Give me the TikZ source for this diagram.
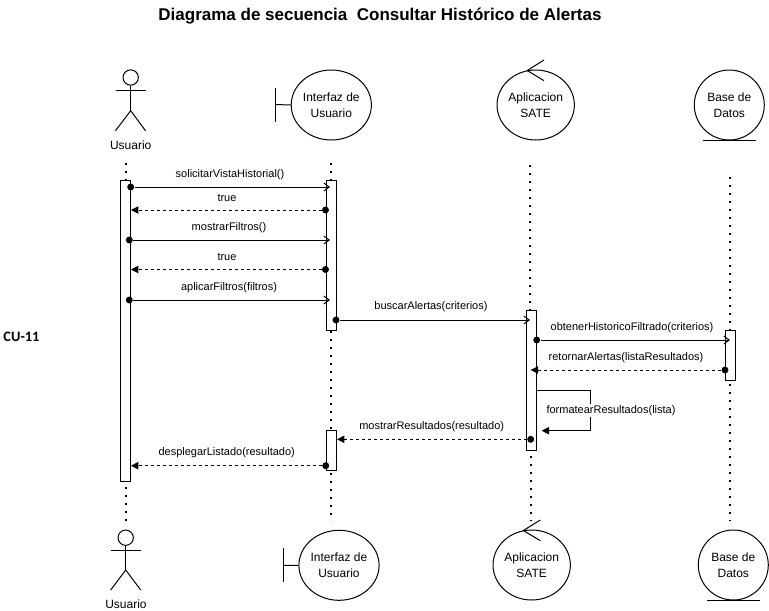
\documentclass[tikz,border=0pt]{standalone}
\usepackage{fontspec}
\setmainfont{Liberation Sans}
\newfontfamily\cufont{Carlito}
\usetikzlibrary{arrows.meta,shapes.geometric}
\tikzset{
  x=0.75pt,y=-0.75pt,
  every path/.style={line width=0.75pt},
  part/.style={draw,ellipse,inner sep=0pt,minimum width=52.5pt,minimum height=52.5pt,align=center,font=\fontsize{9}{12.4}\selectfont},
  ifpart/.style={part,minimum width=59.5pt},
  actlabel/.style={inner sep=0pt,font=\fontsize{9}{11}\selectfont},
  lifeline/.style={line width=1.4pt,dash pattern=on 1.4pt off 4.6pt},
  bar/.style={draw,fill=white,inner sep=0pt,minimum width=7.5pt,anchor=north},
  msglabel/.style={inner sep=0pt,font=\fontsize{8.25}{10}\selectfont},
  dotmark/.style={circle,fill=black,inner sep=0pt,minimum size=5.2pt},
  call/.style={-{Straight Barb[length=4pt,width=6pt]}},
  reply/.style={dash pattern=on 2.25pt off 2.25pt,-{Triangle[length=5.5pt,width=5.5pt]}}
}
\begin{document}
\begin{tikzpicture}
\useasboundingbox (0,0) rectangle (769,611);
% title
\node[inner sep=0pt,font=\fontsize{12.75}{15}\bfseries] (title) at (380,16) {Diagrama de secuencia\ \ Consultar Histórico de Alertas};
\node[inner sep=0pt,anchor=west,font=\cufont\fontsize{10.8}{12}\bfseries] (cu) at (3,337) {CU-11};
% top actor
\node[draw,circle,inner sep=0pt,minimum size=11.5pt] (h1) at (130.7,77.5) {};
\coordinate (b1) at (130.7,110.7);
\draw (h1.south) -- (b1);
\coordinate (sl1) at (115.5,90); \coordinate (sr1) at (145.5,90);
\draw (sl1) -- (sr1);
\coordinate (fl1) at (115.5,130.7); \coordinate (fr1) at (145.5,130.7);
\draw (fl1) -- (b1) -- (fr1);
\node[actlabel] (u1) at (130.7,145.5) {Usuario};
% bottom actor
\node[draw,circle,inner sep=0pt,minimum size=11.5pt] (h2) at (125.7,537.7) {};
\coordinate (b2) at (125.7,570);
\draw (h2.south) -- (b2);
\coordinate (sl2) at (110.7,550); \coordinate (sr2) at (140.7,550);
\draw (sl2) -- (sr2);
\coordinate (fl2) at (110.7,590); \coordinate (fr2) at (140.7,590);
\draw (fl2) -- (b2) -- (fr2);
\node[actlabel] (u2) at (126,604.5) {Usuario};
% interface participants
\node[ifpart] (if1) at (331.3,105) {Interfaz de\\Usuario};
\coordinate (ift1) at (275.3,88.3); \coordinate (ifb1) at (275.3,122.3); \coordinate (ifm1) at (275.3,104.5);
\draw (ift1) -- (ifb1); \draw (ifm1) -- (if1.west);
\node[ifpart] (if2) at (339,565.3) {Interfaz de\\Usuario};
\coordinate (ift2) at (283.3,548); \coordinate (ifb2) at (283.3,582); \coordinate (ifm2) at (283.3,565.5);
\draw (ift2) -- (ifb2); \draw (ifm2) -- (if2.west);
% control participants
\node[part] (ap1) at (535.7,105) {Aplicacion\\SATE};
\coordinate (apt1) at (527.3,70.5); \coordinate (apu1) at (544,60); \coordinate (apd1) at (544,80.7);
\draw (apu1) -- (apt1) -- (apd1);
\node[part] (ap2) at (531.7,565) {Aplicacion\\SATE};
\coordinate (apt2) at (523.3,530.5); \coordinate (apu2) at (540.3,520); \coordinate (apd2) at (540.3,540.7);
\draw (apu2) -- (apt2) -- (apd2);
% entity participants
\node[part] (db1) at (729.3,105) {Base de\\Datos};
\coordinate (dbl1) at (703.3,140); \coordinate (dbr1) at (756,140);
\draw (dbl1) -- (dbr1);
\node[part] (db2) at (733.3,565) {Base de\\Datos};
\coordinate (dbl2) at (707.3,600); \coordinate (dbr2) at (760,600);
\draw (dbl2) -- (dbr2);
% lifelines
\coordinate (lu0) at (125.7,163); \coordinate (lu1) at (125.7,180); \coordinate (lu2) at (125.7,487); \coordinate (lu3) at (125.7,521);
\coordinate (li0) at (330.7,163); \coordinate (li1) at (330.7,180); \coordinate (li2) at (331,331); \coordinate (li3) at (331,430); \coordinate (li4) at (331,473); \coordinate (li5) at (331,521);
\coordinate (la0) at (530.3,165); \coordinate (la1) at (530.3,310); \coordinate (la2) at (530.7,456); \coordinate (la3) at (530.7,521);
\coordinate (ld0) at (730.3,177); \coordinate (ld1) at (730.3,330); \coordinate (ld2) at (730.3,384); \coordinate (ld3) at (730.3,521);
\draw[lifeline] (lu0) -- (lu1); \draw[lifeline] (lu2) -- (lu3);
\draw[lifeline] (li0) -- (li1); \draw[lifeline] (li2) -- (li3); \draw[lifeline] (li4) -- (li5);
\draw[lifeline] (la0) -- (la1); \draw[lifeline] (la2) -- (la3);
\draw[lifeline] (ld0) -- (ld1); \draw[lifeline] (ld2) -- (ld3);
% activations
\node[bar,minimum height=225.5pt] (au) at (125.5,180) {};
\node[bar,minimum height=112.5pt] (ai1) at (331,180) {};
\node[bar,minimum height=30pt] (ai2) at (331,430) {};
\node[bar,minimum height=105pt] (aa) at (531.7,310) {};
\node[bar,minimum height=37.5pt] (ad) at (730,330) {};
% messages
\coordinate (m1e) at (330,187); \node[dotmark] (m1s) at (130.7,187) {};
\draw[call] (m1s) -- (m1e);
\node[msglabel] (t1) at (230,174.5) {solicitarVistaHistorial()};
\coordinate (m2e) at (131,210); \node[dotmark] (m2s) at (325.5,210) {};
\draw[reply] (m2s) -- (m2e);
\node[msglabel] (t2) at (227,198) {true};
\coordinate (m3e) at (330,240); \node[dotmark] (m3s) at (129.3,240) {};
\draw[call] (m3s) -- (m3e);
\node[msglabel] (t3) at (229,228) {mostrarFiltros()};
\coordinate (m4e) at (131,269.5); \node[dotmark] (m4s) at (325.5,269.5) {};
\draw[reply] (m4s) -- (m4e);
\node[msglabel] (t4) at (227,257) {true};
\coordinate (m5e) at (330,300); \node[dotmark] (m5s) at (129.3,300) {};
\draw[call] (m5s) -- (m5e);
\node[msglabel] (t5) at (229,287.5) {aplicarFiltros(filtros)};
\coordinate (m6e) at (530,320); \node[dotmark] (m6s) at (336,320) {};
\draw[call] (m6s) -- (m6e);
\node[msglabel] (t6) at (431,306.5) {buscarAlertas(criterios)};
\coordinate (m7e) at (730,340); \node[dotmark] (m7s) at (536.7,340) {};
\draw[call] (m7s) -- (m7e);
\node[msglabel] (t7) at (632,327.5) {obtenerHistoricoFiltrado(criterios)};
\coordinate (m8e) at (530.7,370); \node[dotmark] (m8s) at (725,370) {};
\draw[reply] (m8s) -- (m8e);
\node[msglabel] (t8) at (626,357.5) {retornarAlertas(listaResultados)};
\coordinate (m9s) at (536.7,390); \coordinate (m9a) at (590.3,390); \coordinate (m9b) at (590.3,430.7); \coordinate (m9e) at (541.7,430.7);
\draw[-{Triangle[length=5.5pt,width=5.5pt]}] (m9s) -- (m9a) -- (m9b) -- (m9e);
\node[msglabel,fill=white,inner ysep=1pt,inner xsep=0pt] (t9) at (611,410.5) {formatearResultados(lista)};
\coordinate (m10e) at (337,439.3); \node[dotmark] (m10s) at (530.7,439.3) {};
\draw[reply] (m10s) -- (m10e);
\node[msglabel] (t10) at (431.7,426.5) {mostrarResultados(resultado)};
\coordinate (m11e) at (131,465.7); \node[dotmark] (m11s) at (325.7,465.7) {};
\draw[reply] (m11s) -- (m11e);
\node[msglabel] (t11) at (226.7,453) {desplegarListado(resultado)};
\end{tikzpicture}
\end{document}
